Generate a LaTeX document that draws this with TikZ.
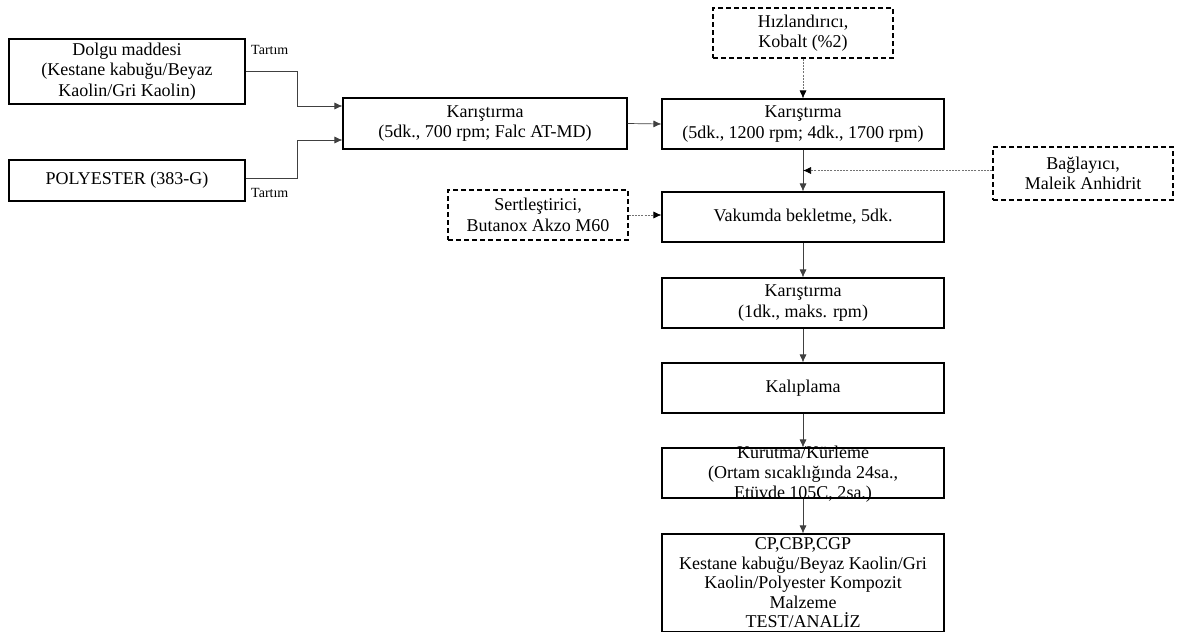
\documentclass[tikz,border=0pt]{standalone}
\usepackage{fontspec}
\setmainfont{Liberation Serif}
\usetikzlibrary{arrows.meta,calc}
\begin{document}
\begin{tikzpicture}[x=1pt,y=-1pt,
  box/.style={draw,line width=1.1pt,minimum width=282pt,minimum height=50pt,align=center,inner sep=0pt,font=\fontsize{18}{20.5}\selectfont},
  dbox/.style={box,dashed,dash pattern=on 5pt off 3pt,minimum width=180pt},
  arr/.style={-{Latex[length=8pt,width=7pt]},line width=0.7pt,draw=black!75},
  darr/.style={-{Latex[length=8pt,width=7pt,black]},line width=0.7pt,draw=black!55,dash pattern=on 2pt off 1.2pt},
  lab/.style={font=\fontsize{14}{15}\selectfont,inner sep=0pt}]
\useasboundingbox (0,0) rectangle (1181,632);
\node[box,minimum width=236pt,minimum height=65pt] (dolgu) at (127,71.5) {Dolgu maddesi\\(Kestane kabuğu/Beyaz\\Kaolin/Gri Kaolin)};
\node[box,minimum width=236pt,minimum height=41pt] (poly) at (127,180.5) {POLYESTER (383-G)};
\node[box,minimum width=284pt,minimum height=51pt] (k1) at (485,123.5) {Karıştırma\\(5dk., 700 rpm; Falc AT-MD)};
\node[box] (k2) at (803,124) {Karıştırma\\(5dk., 1200 rpm; 4dk., 1700 rpm)};
\node[dbox] (hiz) at (803,33) {Hızlandırıcı,\\Kobalt (\%2)};
\node[dbox,minimum height=53pt] (bag) at (1083,173.5) {Bağlayıcı,\\Maleik Anhidrit};
\node[box] (vak) at (803,217) {Vakumda bekletme, 5dk.};
\node[dbox] (sert) at (538,215) {Sertleştirici,\\Butanox Akzo M60};
\node[box] (k3) at (803,303) {Karıştırma\\(1dk., maks. rpm)};
\node[box] (kal) at (803,388) {Kalıplama};
\node[box] (kur) at (803,473) {};
\node[align=center,inner sep=0pt,font=\fontsize{18}{20}\selectfont] (kurt) at (803,474) {Kurutma/Kürleme\\(Ortam sıcaklığında 24sa.,\\Etüvde 105C, 2sa.)};
\node[box,minimum height=98pt,font=\fontsize{18}{19.5}\selectfont] (cp) at (803,583) {CP,CBP,CGP\\Kestane kabuğu/Beyaz Kaolin/Gri\\Kaolin/Polyester Kompozit\\Malzeme\\TEST/ANALİZ};
\node[lab,anchor=west] (t1) at (251,50) {Tartım};
\node[lab,anchor=west] (t2) at (251,193) {Tartım};
\draw[arr] (dolgu.east) -- (297,71.5) |- ([yshift=17.5pt]k1.west);
\draw[arr] ([yshift=2.5pt]poly.east) -- (297,178) |- ([yshift=-16.5pt]k1.west);
\draw[arr] (k1.east) -- (k2.west);
\draw[darr] (hiz.south) -- (k2.north);
\draw[arr] (k2.south) -- (vak.north);
\draw[darr] ([yshift=3pt]bag.west) -- ([yshift=3pt]bag.west -| k2.south);
\draw[darr] (sert.east) -- (sert.east -| vak.west);
\draw[arr] (vak.south) -- (k3.north);
\draw[arr] (k3.south) -- (kal.north);
\draw[arr] (kal.south) -- (kur.north);
\draw[arr] (kur.south) -- (cp.north);
\end{tikzpicture}
\end{document}
